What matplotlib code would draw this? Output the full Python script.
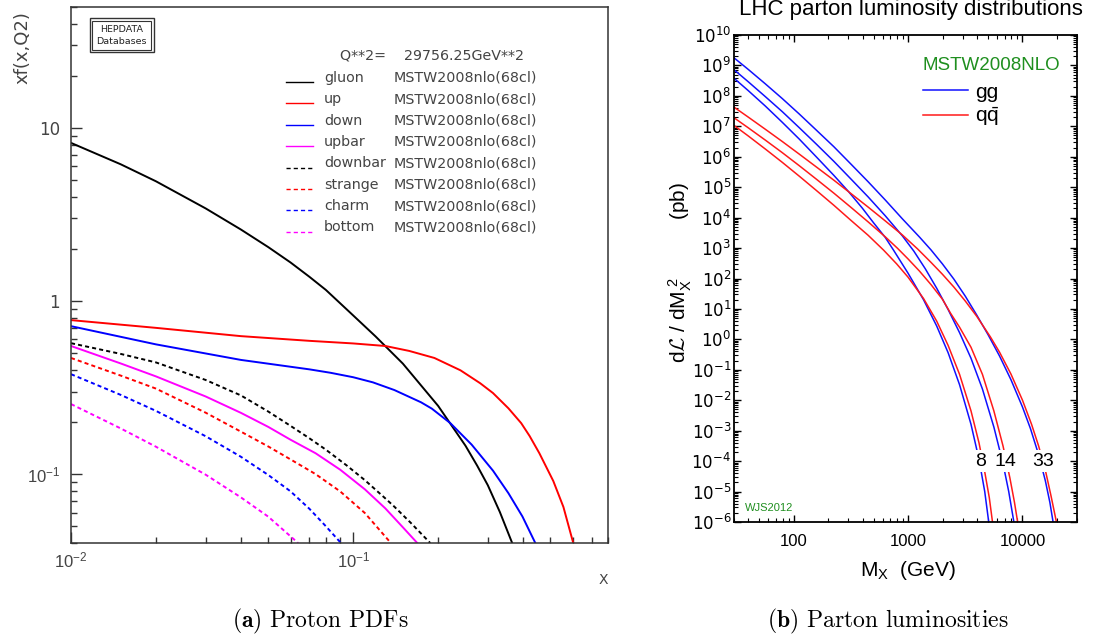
import numpy as np
import matplotlib.pyplot as plt
from matplotlib.patches import Rectangle
from matplotlib.ticker import LogLocator, NullFormatter, LogFormatterSciNotation

plt.rcParams['mathtext.fontset'] = 'custom'
plt.rcParams['mathtext.rm'] = 'Liberation Sans'
plt.rcParams['mathtext.it'] = 'Liberation Sans:italic'
plt.rcParams['mathtext.bf'] = 'Liberation Sans:bold'
plt.rcParams['mathtext.cal'] = 'cmsy10'

# ---- proton PDFs xf(x, Q^2) at Q^2 = 29756.25 GeV^2 (MSTW2008nlo) ----
x_gluon = [0.01, 0.015, 0.02, 0.03, 0.04, 0.05, 0.06, 0.07, 0.08, 0.1, 0.12, 0.15,
           0.2, 0.25, 0.275, 0.3, 0.331, 0.366]
f_gluon = [8.2, 6.17, 4.92, 3.43, 2.59, 2.05, 1.67, 1.38, 1.16, 0.826, 0.625, 0.435,
           0.248, 0.146, 0.112, 0.0863, 0.0604, 0.04]

x_up = [0.01, 0.02, 0.04, 0.07, 0.1, 0.13, 0.158, 0.194, 0.24, 0.282, 0.313, 0.355,
        0.394, 0.422, 0.457, 0.512, 0.556, 0.603]
f_up = [0.776, 0.70, 0.627, 0.589, 0.569, 0.55, 0.515, 0.469, 0.398, 0.335, 0.294,
        0.240, 0.197, 0.166, 0.132, 0.0912, 0.0646, 0.0398]

x_down = [0.01, 0.02, 0.04, 0.07, 0.0832, 0.1, 0.1175, 0.14, 0.174, 0.19, 0.221, 0.263,
          0.313, 0.355, 0.398, 0.442]
f_down = [0.716, 0.562, 0.457, 0.403, 0.385, 0.363, 0.339, 0.306, 0.260, 0.239, 0.197,
          0.148, 0.1047, 0.0776, 0.0569, 0.04]

x_upbar = [0.01, 0.015, 0.02, 0.03, 0.04, 0.05, 0.06, 0.0736, 0.09, 0.11, 0.13, 0.15,
           0.1687]
f_upbar = [0.55, 0.436, 0.367, 0.281, 0.226, 0.1875, 0.158, 0.132, 0.106, 0.0817,
           0.0634, 0.0493, 0.04]

x_downbar = [0.01, 0.015, 0.02, 0.03, 0.04, 0.05, 0.06, 0.07, 0.08, 0.095, 0.11, 0.13,
             0.14, 0.16, 0.1875]
f_downbar = [0.571, 0.495, 0.442, 0.350, 0.285, 0.230, 0.190, 0.161, 0.1385, 0.112,
             0.0923, 0.0724, 0.0648, 0.0523, 0.04]

x_strange = [0.01, 0.015, 0.02, 0.03, 0.04, 0.05, 0.06, 0.0736, 0.09, 0.11, 0.136]
f_strange = [0.469, 0.371, 0.312, 0.2265, 0.176, 0.1445, 0.1216, 0.100, 0.0794, 0.0596,
             0.04]

x_charm = [0.01, 0.015, 0.02, 0.03, 0.04, 0.05, 0.06, 0.07, 0.08, 0.0905]
f_charm = [0.378, 0.287, 0.232, 0.1656, 0.126, 0.0989, 0.0795, 0.063, 0.050, 0.04]

x_bottom = [0.01, 0.015, 0.02, 0.03, 0.04, 0.05, 0.0638]
f_bottom = [0.254, 0.1837, 0.144, 0.0993, 0.0734, 0.0568, 0.04]

pdf_names = ['gluon', 'up', 'down', 'upbar', 'downbar', 'strange', 'charm', 'bottom']
pdf_x = [x_gluon, x_up, x_down, x_upbar, x_downbar, x_strange, x_charm, x_bottom]
pdf_f = [f_gluon, f_up, f_down, f_upbar, f_downbar, f_strange, f_charm, f_bottom]
pdf_colors = ['black', 'red', 'blue', 'magenta', 'black', 'red', 'blue', 'magenta']
pdf_dashed = [False, False, False, False, True, True, True, True]

# ---- LHC parton luminosities (MSTW2008NLO): M_X in GeV, dL/dM_X^2 in pb ----
m_gg33 = [30, 39.8, 56.2, 79.4, 112, 158, 224, 316, 447, 631, 891, 1259, 1585, 1995,
          2512, 3162, 3981, 5012, 6310, 7943, 10000, 11750, 13800, 15850, 17380, 18530]
L_gg33 = [1.78e9, 7.5e8, 2.51e8, 8.13e7, 2.51e7, 7.41e6, 2.14e6, 5.75e5, 1.51e5,
          3.80e4, 9.12e3, 2.29e3, 871, 302, 95.5, 26.3, 6.31, 1.41, 0.282, 0.0468,
          6.03e-3, 1.17e-3, 1.70e-4, 2.29e-5, 4.37e-6, 1.0e-6]

m_gg14 = [30, 39.8, 56.2, 79.4, 112, 158, 224, 316, 447, 631, 891, 1122, 1413, 1778,
          2239, 2818, 3548, 4467, 5623, 6761, 7586, 8414]
L_gg14 = [7.24e8, 2.95e8, 9.55e7, 3.02e7, 8.91e6, 2.57e6, 7.08e5, 1.86e5, 4.79e4,
          1.15e4, 2.51e3, 794, 209, 47.9, 9.55, 1.66, 0.24, 0.0234, 1.32e-3, 8.3e-5,
          1.0e-5, 1.0e-6]

m_gg8 = [30, 39.8, 56.2, 79.4, 112, 158, 224, 302, 398, 501, 631, 746, 1000, 1365,
         1778, 2239, 2818, 3548, 4169, 4677, 5070]
L_gg8 = [3.8e8, 1.51e8, 4.68e7, 1.35e7, 3.76e6, 9.77e5, 2.45e5, 7.08e4, 2.04e4,
         6.61e3, 2.24e3, 851, 148, 20, 2.75, 0.363, 0.0324, 1.62e-3, 1.14e-4, 1.01e-5,
         1.0e-6]

m_qq33 = [30, 39.8, 56.2, 79.4, 112, 158, 224, 316, 447, 631, 891, 1211, 1585, 1995,
          2512, 3162, 3981, 5248, 6310, 7943, 10000, 12020, 13870, 15850, 17780, 19820]
L_qq33 = [4.27e7, 2.03e7, 8.07e6, 3.16e6, 1.21e6, 4.58e5, 1.70e5, 6.19e4, 2.22e4,
          7.80e3, 2.69e3, 933, 339, 138, 52.5, 18.2, 5.75, 1.20, 0.377, 0.0718,
          0.0101, 1.61e-3, 3.09e-4, 5.09e-5, 7.19e-6, 1.0e-6]

m_qq14 = [30, 39.8, 56.2, 79.4, 112, 158, 224, 316, 447, 631, 809, 1000, 1259, 1585,
          1995, 2350, 2818, 3548, 4467, 5623, 6761, 7762, 8511, 9078]
L_qq14 = [1.91e7, 9.04e6, 3.55e6, 1.36e6, 5.04e5, 1.82e5, 6.38e4, 2.18e4, 7.24e3,
          2.34e3, 977, 437, 174, 63.1, 20.9, 7.24, 2.51, 0.55, 0.0708, 4.47e-3,
          3.16e-4, 2.82e-5, 4.47e-6, 1.0e-6]

m_qq8 = [30, 39.8, 56.2, 79.4, 112, 158, 224, 316, 447, 611, 794, 1000, 1365, 1778,
         2239, 2818, 3548, 4169, 4677, 5129, 5470]
L_qq8 = [1.07e7, 4.88e6, 1.81e6, 6.53e5, 2.28e5, 7.74e4, 2.55e4, 8.15e3, 2.63e3, 851,
         302, 110, 21.9, 3.98, 0.631, 0.0708, 4.47e-3, 3.98e-4, 4.47e-5, 6.31e-6, 1.0e-6]

gg_curves = [(m_gg33, L_gg33), (m_gg14, L_gg14), (m_gg8, L_gg8)]
qq_curves = [(m_qq33, L_qq33), (m_qq14, L_qq14), (m_qq8, L_qq8)]
energies = ['8', '14', '33']            # sqrt(s) in TeV
energy_label_m = [4300, 7110, 15240]    # where each label sits on the 1e-4 line

W, H = 1094, 641


def fx(px):
    return px / W


def fy(py):
    return 1 - py / H


fig = plt.figure(figsize=(W / 100, H / 100), dpi=100)

# ================= left: proton PDFs =================
grey = '#444444'
ax1 = fig.add_axes([fx(71), fy(543), fx(608) - fx(71), fy(7) - fy(543)])
ax1.set_xscale('log')
ax1.set_yscale('log')
for xs, fs, col, dashed in zip(pdf_x, pdf_f, pdf_colors, pdf_dashed):
    if dashed:
        ax1.plot(xs, fs, color=col, lw=1.4, ls=(0, (2.1, 1.6)))
    else:
        ax1.plot(xs, fs, color=col, lw=1.4)
ax1.set_xlim(0.01, 0.8)
ax1.set_ylim(0.04, 50)

ax1.set_xticks([0.01, 0.1])
ax1.set_xticklabels([r'$10^{-2}$', r'$10^{-1}$'])
ax1.set_yticks([0.1, 1, 10])
ax1.set_yticklabels([r'$10^{-1}$', '1', '10'])
ax1.xaxis.set_minor_locator(LogLocator(base=10, subs=np.arange(2, 10), numticks=50))
ax1.yaxis.set_minor_locator(LogLocator(base=10, subs=np.arange(2, 10), numticks=50))
ax1.xaxis.set_minor_formatter(NullFormatter())
ax1.yaxis.set_minor_formatter(NullFormatter())
ax1.tick_params(which='both', direction='in', top=False, right=False,
                color='#333333', labelcolor=grey, labelsize=12)
ax1.tick_params(which='major', length=8, width=1.0)
ax1.tick_params(which='minor', length=4, width=1.0)
ax1.tick_params(axis='x', pad=6)
ax1.tick_params(axis='y', pad=8)
for sp in ax1.spines.values():
    sp.set_color('#333333')
    sp.set_linewidth(1.1)

fig.text(fx(22), fy(48), 'xf(x,Q2)', rotation=90, ha='center', va='center',
         fontsize=13, color=grey)
fig.text(fx(603), fy(580), 'X', ha='center', va='center', fontsize=10, color=grey)

# HEPDATA stamp
ax1.add_patch(Rectangle((0.035, 0.9155), 0.119, 0.0635, transform=ax1.transAxes,
                        fill=False, ec='#333333', lw=1.0))
ax1.add_patch(Rectangle((0.0395, 0.9200), 0.110, 0.0545, transform=ax1.transAxes,
                        fill=False, ec='#333333', lw=0.8))
ax1.text(0.0945, 0.958, 'HEPDATA', transform=ax1.transAxes, ha='center', va='center',
         fontsize=6.8, color='#222222')
ax1.text(0.0945, 0.935, 'Databases', transform=ax1.transAxes, ha='center', va='center',
         fontsize=6.8, color='#222222')

# key
ax1.text(0.501, 0.9086, 'Q**2=    29756.25GeV**2', transform=ax1.transAxes,
         ha='left', va='center', fontsize=10.3, color=grey)
row0, drow = 0.868, 0.0399
for i, (name, col, dashed) in enumerate(zip(pdf_names, pdf_colors, pdf_dashed)):
    yy = row0 - i * drow
    ax1.plot([0.400, 0.451], [yy - 0.008, yy - 0.008], transform=ax1.transAxes,
             color=col, lw=1.0, ls=(0, (3, 2.2)) if dashed else '-')
    ax1.text(0.471, yy, name, transform=ax1.transAxes, ha='left', va='center',
             fontsize=10.3, color=grey)
    ax1.text(0.601, yy, 'MSTW2008nlo(68cl)', transform=ax1.transAxes, ha='left',
             va='center', fontsize=10.3, color=grey)

# ================= right: parton luminosities =================
sans = ['Liberation Sans', 'DejaVu Sans']
blue, red, green = '#1010ff', '#ff1a1a', '#1f8f1f'
ax2 = fig.add_axes([fx(734), fy(522), fx(1077) - fx(734), fy(35) - fy(522)])
ax2.set_xscale('log')
ax2.set_yscale('log')
for ms, Ls in gg_curves:
    ax2.plot(ms, Ls, color=blue, lw=1.1)
for ms, Ls in qq_curves:
    ax2.plot(ms, Ls, color=red, lw=1.1)
ax2.set_xlim(30, 30000)
ax2.set_ylim(1e-6, 1e10)

ax2.set_xticks([100, 1000, 10000])
ax2.set_xticklabels(['100', '1000', '10000'], fontfamily=sans)
ax2.xaxis.set_minor_locator(LogLocator(base=10, subs=np.arange(2, 10), numticks=50))
ax2.xaxis.set_minor_formatter(NullFormatter())
ax2.yaxis.set_major_locator(LogLocator(base=10, numticks=30))
ax2.yaxis.set_major_formatter(LogFormatterSciNotation())
ax2.yaxis.set_minor_locator(LogLocator(base=10, subs=np.arange(2, 10), numticks=200))
ax2.yaxis.set_minor_formatter(NullFormatter())
ax2.tick_params(which='both', direction='in', top=True, right=True, labelsize=12)
ax2.tick_params(which='major', length=5, width=1.0)
ax2.tick_params(which='minor', length=2.8, width=0.8)
ax2.tick_params(axis='x', pad=9)
ax2.tick_params(axis='y', pad=2)
for sp in ax2.spines.values():
    sp.set_linewidth(1.3)

for lab, m in zip(energies, energy_label_m):
    ax2.text(m, 1e-4, lab, ha='center', va='center', fontsize=14, fontfamily=sans,
             bbox=dict(facecolor='white', edgecolor='none', pad=1.5))

fig.text(fx(922), fy(65), 'MSTW2008NLO', ha='left', va='center', fontsize=13.5,
         color=green, fontfamily=sans)
ax2.plot([0.551, 0.682], [0.887, 0.887], transform=ax2.transAxes, color=blue, lw=1.1)
ax2.plot([0.551, 0.682], [0.836, 0.836], transform=ax2.transAxes, color=red, lw=1.1)
fig.text(fx(975), fy(93), 'gg', ha='left', va='center', fontsize=15, fontfamily=sans)
fig.text(fx(975), fy(117), r'q$\bar{\mathrm{q}}$', ha='left', va='center', fontsize=15,
         fontfamily=sans)
fig.text(fx(745), fy(508), 'WJS2012', ha='left', va='center', fontsize=8,
         color=green, fontfamily=sans)

fig.text(fx(911), fy(10), 'LHC parton luminosity distributions', ha='center',
         va='center', fontsize=16, fontfamily=sans)
fig.text(fx(680), fy(272), r'd$\mathcal{L}$ / dM$_\mathrm{X}^{\ 2}$          (pb)',
         rotation=90, ha='center', va='center', fontsize=15, fontfamily=sans)
fig.text(fx(908), fy(570), r'M$_\mathrm{X}$  (GeV)', ha='center', va='center',
         fontsize=15, fontfamily=sans)

# ================= sub-captions =================
fig.text(fx(320), fy(621), r'$\mathbf{(a)}$ Proton PDFs', ha='center', va='center',
         fontsize=17, fontfamily='cmr10', math_fontfamily='cm')
fig.text(fx(888), fy(621), r'$\mathbf{(b)}$ Parton luminosities', ha='center',
         va='center', fontsize=17, fontfamily='cmr10', math_fontfamily='cm')

fig.savefig('out.png', dpi=100)
